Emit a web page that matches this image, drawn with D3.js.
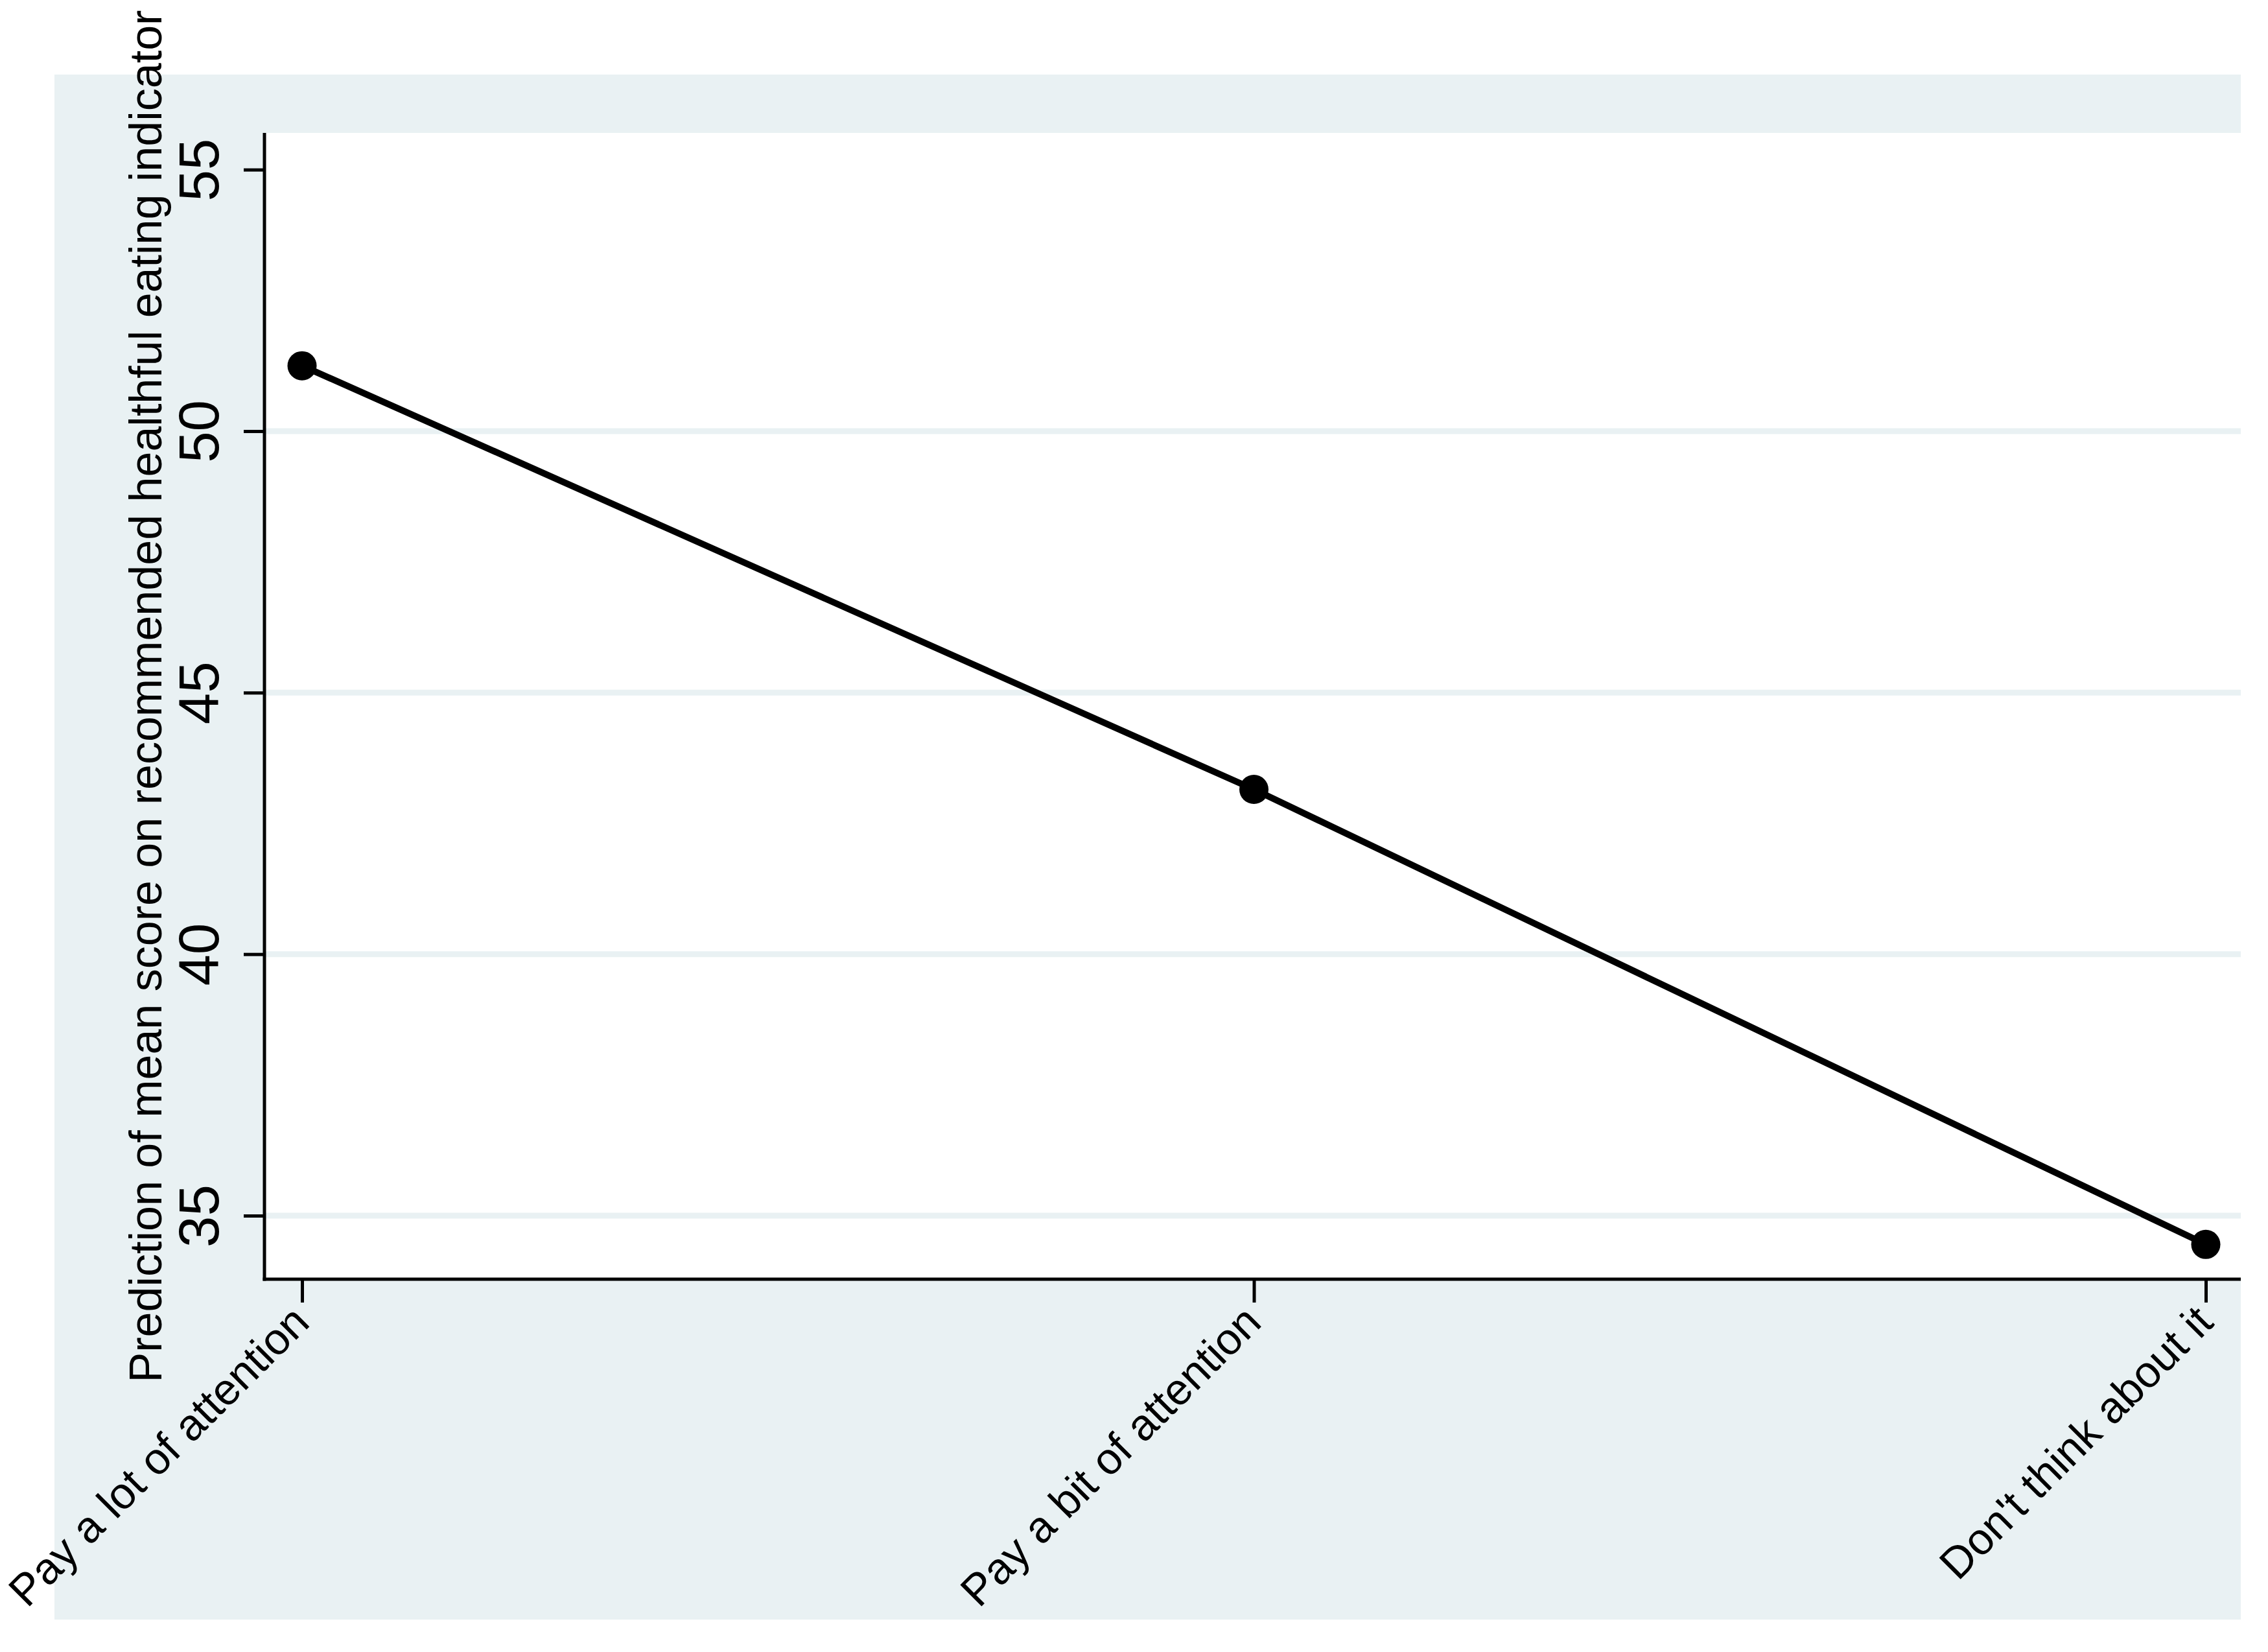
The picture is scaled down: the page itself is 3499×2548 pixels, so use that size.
<!DOCTYPE html>
<html>
<head>
<meta charset="utf-8">
<script src="https://cdn.jsdelivr.net/npm/d3@7"></script>
<style>
  html, body { margin: 0; padding: 0; background: #ffffff; }
  svg { display: block; }
  text { font-family: "Liberation Sans", Arial, Helvetica, sans-serif; fill: #000; }
</style>
</head>
<body>
<svg id="chart" width="3499" height="2548"></svg>
<script>
// ---- data ----
const categories = ["Pay a lot of attention", "Pay a bit of attention", "Don't think about it"];
const values = [51.25, 43.15, 34.45];
const yTicks = [35, 40, 45, 50, 55];
const gridTicks = [35, 40, 45, 50];
const yTitle = "Prediction of mean score on recommended healthful eating indicator";

// ---- layout ----
const W = 3499, H = 2548;
const panel = { x: 84, y: 115, w: 3373, h: 2383 };
const plot = { left: 408, right: 3457, top: 205, bottom: 1973 };
const bgColor = "#e9f1f3";

const svg = d3.select("#chart");
svg.append("rect").attr("width", W).attr("height", H).attr("fill", "#ffffff");
svg.append("rect").attr("x", panel.x).attr("y", panel.y).attr("width", panel.w).attr("height", panel.h).attr("fill", bgColor);
svg.append("rect").attr("x", plot.left).attr("y", plot.top)
  .attr("width", plot.right - plot.left).attr("height", plot.bottom - plot.top).attr("fill", "#ffffff");

// ---- scales ----
const x = d3.scalePoint().domain(categories).range([466, 3403]);
const y = d3.scaleLinear().domain([33.785, 55.702]).range([plot.bottom, plot.top]);

// gridlines
svg.append("g").selectAll("line").data(gridTicks).join("line")
  .attr("x1", plot.left).attr("x2", plot.right)
  .attr("y1", d => y(d)).attr("y2", d => y(d))
  .attr("stroke", bgColor).attr("stroke-width", 9);

// y axis
const yAxis = svg.append("g").attr("transform", `translate(${plot.left},0)`)
  .call(d3.axisLeft(y).tickValues(yTicks).tickSize(32).tickFormat(d3.format("d")));
yAxis.select(".domain").remove();
yAxis.selectAll(".tick line").attr("stroke", "#000").attr("stroke-width", 5);
yAxis.selectAll(".tick text")
  .attr("x", null).attr("dy", null)
  .attr("text-anchor", "middle")
  .attr("transform", "translate(-71,0) rotate(-90)")
  .style("font-size", "87px");

// x axis
const xAxis = svg.append("g").attr("transform", `translate(0,${plot.bottom})`)
  .call(d3.axisBottom(x).tickSize(36));
xAxis.select(".domain").remove();
xAxis.selectAll(".tick line").attr("stroke", "#000").attr("stroke-width", 5);
xAxis.selectAll(".tick text")
  .attr("y", null).attr("dy", null)
  .attr("text-anchor", "end")
  .attr("transform", "translate(14,70) rotate(-45)")
  .style("font-size", "68px");

// axis lines
svg.append("line").attr("x1", plot.left).attr("x2", plot.left)
  .attr("y1", plot.top).attr("y2", plot.bottom + 2.5)
  .attr("stroke", "#000").attr("stroke-width", 5);
svg.append("line").attr("x1", plot.left - 2.5).attr("x2", plot.right)
  .attr("y1", plot.bottom).attr("y2", plot.bottom)
  .attr("stroke", "#000").attr("stroke-width", 5);

// y title
svg.append("text")
  .attr("transform", `translate(249,1074) rotate(-90)`)
  .attr("text-anchor", "middle")
  .style("font-size", "70px")
  .text(yTitle);

// line + markers
const pts = categories.map((c, i) => ({ c, v: values[i] }));
svg.append("path").datum(pts)
  .attr("d", d3.line().x(d => x(d.c)).y(d => y(d.v)))
  .attr("fill", "none").attr("stroke", "#000").attr("stroke-width", 10)
  .attr("stroke-linejoin", "round");
svg.append("g").selectAll("circle").data(pts).join("circle")
  .attr("cx", d => x(d.c)).attr("cy", d => y(d.v)).attr("r", 22.5).attr("fill", "#000");
</script>
</body>
</html>
